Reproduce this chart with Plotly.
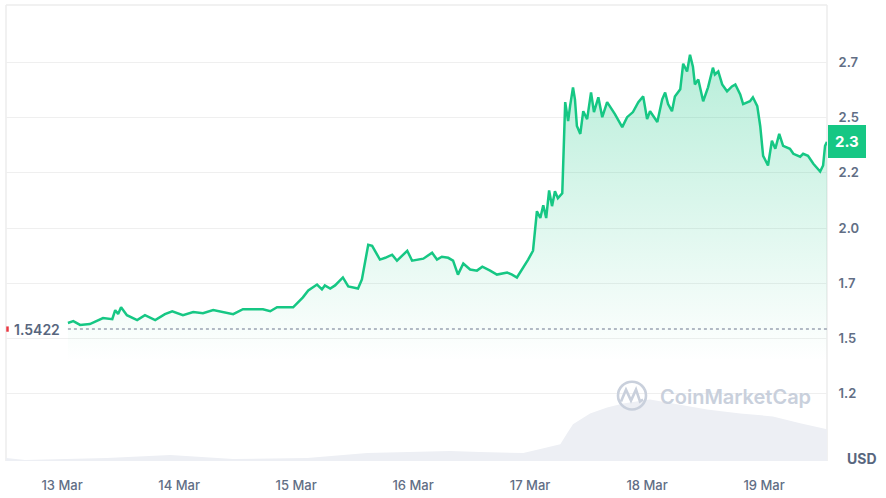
import plotly.graph_objects as go
import pandas as pd

# ---------------- data ----------------
BASE = pd.Timestamp("2025-03-13 00:00")

price_hours = [
    1.2, 2.3, 3.7, 5.7, 8.4, 10.3, 10.9, 11.5, 12.1, 13.3, 15.4, 17.0, 19.1, 21.1, 22.6,
    24.8, 26.9, 28.9, 31.0, 33.0, 35.1, 37.1, 39.2, 41.2, 42.7, 44.1, 46.2, 47.4,
    49.4, 50.5, 52.3, 53.3, 53.9, 55.0, 56.0, 57.6, 58.7, 60.7, 61.5, 62.8, 63.6,
    65.2, 66.3, 67.7, 68.7, 69.7, 70.8, 71.8, 73.0, 74.1, 75.9, 76.9, 77.9, 79.2,
    80.2, 81.2, 82.3, 83.7, 85.1, 86.2, 87.8, 89.2, 91.3, 92.3, 93.3, 94.6, 95.6,
    96.6, 97.4, 98.1, 98.7, 99.3, 99.9, 100.5, 101.1, 101.7, 102.6, 103.2, 103.8,
    104.2, 104.8, 105.2, 105.6, 106.3, 106.9, 107.7, 108.5, 109.1, 110.0, 110.8,
    111.8, 113.4, 114.9, 115.9, 117.1, 118.2, 119.2, 120.0, 120.6, 122.1, 123.1,
    123.7, 124.3, 125.1, 125.7, 126.8, 127.4, 128.2, 128.8, 129.4, 129.8, 130.5,
    131.5, 132.5, 133.5, 133.9, 134.6, 135.4, 136.4, 137.4, 138.1, 139.1, 139.7,
    141.1, 141.7, 142.6, 143.2, 143.8, 144.8, 145.6, 146.3, 147.1, 147.9, 149.3,
    150.0, 151.4, 152.0, 153.0, 154.1, 155.5, 156.1, 156.5, 156.9,
]
price_values = [
    1.570, 1.578, 1.561, 1.565, 1.592, 1.587, 1.628, 1.610, 1.641, 1.605, 1.583, 1.605,
    1.583, 1.610, 1.623, 1.605, 1.619, 1.614, 1.628, 1.619, 1.610, 1.632, 1.632, 1.632,
    1.623, 1.641, 1.641, 1.641, 1.686, 1.717, 1.744, 1.722, 1.740, 1.726, 1.740, 1.776,
    1.735, 1.726, 1.767, 1.924, 1.919, 1.857, 1.865, 1.879, 1.852, 1.874, 1.897, 1.852,
    1.857, 1.861, 1.888, 1.857, 1.870, 1.865, 1.852, 1.789, 1.839, 1.812, 1.807, 1.825,
    1.807, 1.789, 1.798, 1.789, 1.776, 1.821, 1.857, 1.897, 2.076, 2.045, 2.103, 2.045,
    2.170, 2.099, 2.166, 2.135, 2.157, 2.570, 2.484, 2.552, 2.637, 2.583, 2.462, 2.426,
    2.529, 2.493, 2.614, 2.525, 2.592, 2.502, 2.570, 2.516, 2.457, 2.502, 2.525, 2.570,
    2.596, 2.493, 2.529, 2.480, 2.583, 2.614, 2.561, 2.529, 2.596, 2.628, 2.744, 2.709,
    2.785, 2.731, 2.650, 2.673, 2.574, 2.637, 2.726, 2.695, 2.709, 2.650, 2.619, 2.641,
    2.650, 2.605, 2.561, 2.574, 2.592, 2.552, 2.462, 2.327, 2.283, 2.395, 2.359, 2.426,
    2.372, 2.359, 2.336, 2.323, 2.336, 2.327, 2.291, 2.256, 2.283, 2.372, 2.390,
]

volume_hours = [
    -11.5, -7.6, 9.2, 22.2, 35.1, 50.3, 62.6, 79.6, 85.7, 94.6, 98.1, 102.2, 103.6,
    104.8, 108.3, 111.8, 115.1, 120.6, 125.3, 132.3, 139.1, 145.8, 151.4, 156.9,
]
volume_values = [  # relative 24h volume (estimated)
    3, 1, 3, 6, 2, 3, 8, 10, 9, 8, 12, 17, 28, 37, 48, 54, 58, 62, 58, 52, 48, 45, 38, 32,
]

ytick_vals = [1.25, 1.5, 1.75, 2.0, 2.25, 2.5, 2.75]
ytick_text = ["1.2", "1.5", "1.7", "2.0", "2.2", "2.5", "2.7"]
xtick_days = ["2025-03-13", "2025-03-14", "2025-03-15", "2025-03-16",
              "2025-03-17", "2025-03-18", "2025-03-19"]
ref_price = 1.5422
ref_label = "1.5422"
last_label = "2.3"
currency = "USD"

# ---------------- build ----------------
price_t = [BASE + pd.Timedelta(hours=h) for h in price_hours]
vol_t = [BASE + pd.Timedelta(hours=h) for h in volume_hours]

W, H = 886, 498
ML, MR, MT, MB = 6, 59, 5, 33
PW, PH = W - ML - MR, H - MT - MB


def px(x):
    return (x - ML) / PW


def py(y):
    return (H - MB - y) / PH


GREEN = "#16c784"
TXT = "#58667e"
WM = "#c9d0dc"

fig = go.Figure()

fig.add_trace(go.Scatter(
    x=vol_t, y=volume_values, yaxis="y2", mode="lines",
    line=dict(width=0, color="#eef0f4"), fill="tozeroy",
    fillcolor="#edeff4", hoverinfo="skip", showlegend=False,
))

fig.add_trace(go.Scatter(
    x=price_t, y=price_values, mode="lines",
    line=dict(color=GREEN, width=2.5),
    fill="tozeroy",
    fillgradient=dict(type="vertical", start=0.95, stop=2.8,
                      colorscale=[[0, "rgba(22,199,132,0)"], [0.25, "rgba(22,199,132,0.0)"],
                                  [1, "rgba(22,199,132,0.31)"]]),
    showlegend=False,
))

shapes = []
# reference dotted line
shapes.append(dict(type="line", xref="x", yref="y", x0=price_t[0], x1=price_t[-1],
                   y0=ref_price, y1=ref_price,
                   line=dict(color="#9aa3b2", width=1.5, dash="dot")))
# frame (top, left, right)
for (x0, y0, x1, y1) in [(0, 1, 1, 1), (0, 0, 0, 1), (1, 0, 1, 1)]:
    shapes.append(dict(type="line", xref="paper", yref="paper", x0=x0, y0=y0, x1=x1, y1=y1,
                       line=dict(color="#ececec", width=1.5), layer="below"))
# small red marker near reference label
shapes.append(dict(type="line", xref="paper", yref="y", x0=px(7.5), x1=px(7.5),
                   y0=ref_price - 0.012, y1=ref_price + 0.012,
                   line=dict(color="#ea3943", width=2.5)))
# watermark logo
cx, cy, r = 632, 399, 14
shapes.append(dict(type="circle", xref="paper", yref="paper",
                   x0=px(cx - r), x1=px(cx + r), y0=py(cy + r), y1=py(cy - r),
                   line=dict(color=WM, width=2.6)))
mpts = [(621, 405), (626, 393), (631, 404), (636, 393), (640, 405), (643, 403)]
path = "M " + " L ".join(f"{px(a):.5f},{py(b):.5f}" for a, b in mpts)
shapes.append(dict(type="path", xref="paper", yref="paper", path=path,
                   line=dict(color=WM, width=2.6)))

annotations = [
    dict(xref="paper", yref="y", x=px(12), y=ref_price, text=ref_label, showarrow=False,
         xanchor="left", yanchor="middle",
         font=dict(family="Inter", size=14, color=TXT, weight=600)),
    dict(xref="paper", yref="y", x=1.0, y=price_values[-1], text=f"<b>{last_label}</b>",
         showarrow=False, xanchor="left", yanchor="middle", xshift=1,
         bgcolor=GREEN, borderpad=7, bordercolor=GREEN, borderwidth=0,
         font=dict(family="Inter", size=15, color="white")),
    dict(xref="paper", yref="paper", x=px(845), y=py(462), text=f"<b>{currency}</b>",
         showarrow=False, xanchor="left", yanchor="middle",
         font=dict(family="Inter", size=14, color=TXT)),
    dict(xref="paper", yref="paper", x=px(658), y=py(400), text="CoinMarketCap",
         showarrow=False, xanchor="left", yanchor="middle",
         font=dict(family="Inter", size=20, color=WM, weight=600)),
]

fig.update_layout(
    width=W, height=H, autosize=False,
    margin=dict(l=ML, r=MR, t=MT, b=MB, pad=0),
    paper_bgcolor="white", plot_bgcolor="white",
    hovermode=False,
    font=dict(family="Inter", color=TXT),
    xaxis=dict(
        type="date",
        range=[BASE + pd.Timedelta(hours=-11.5), BASE + pd.Timedelta(hours=156.9)],
        tickvals=[pd.Timestamp(d) for d in xtick_days],
        tickformat="%-d %b",
        showgrid=False, zeroline=False, showline=False,
        ticks="outside", ticklen=12, tickcolor="rgba(0,0,0,0)",
        tickfont=dict(family="Inter", size=13, color="#616e85", weight=500),
    ),
    yaxis=dict(
        side="right", range=[0.9447, 3.010],
        tickvals=ytick_vals, ticktext=ytick_text,
        showgrid=True, gridcolor="#efefef", gridwidth=1.2,
        zeroline=False, showline=False,
        ticks="outside", ticklen=8, tickcolor="rgba(0,0,0,0)",
        tickfont=dict(family="Inter", size=13, color="#616e85", weight=600),
    ),
    yaxis2=dict(overlaying="y", range=[0, 460], visible=False),
    shapes=shapes,
    annotations=annotations,
)

fig.write_html(
    "out.html",
    config={"displayModeBar": False},
    post_script="document.body.style.margin='0';document.body.style.padding='0';"
                "document.body.style.overflow='hidden';",
)
